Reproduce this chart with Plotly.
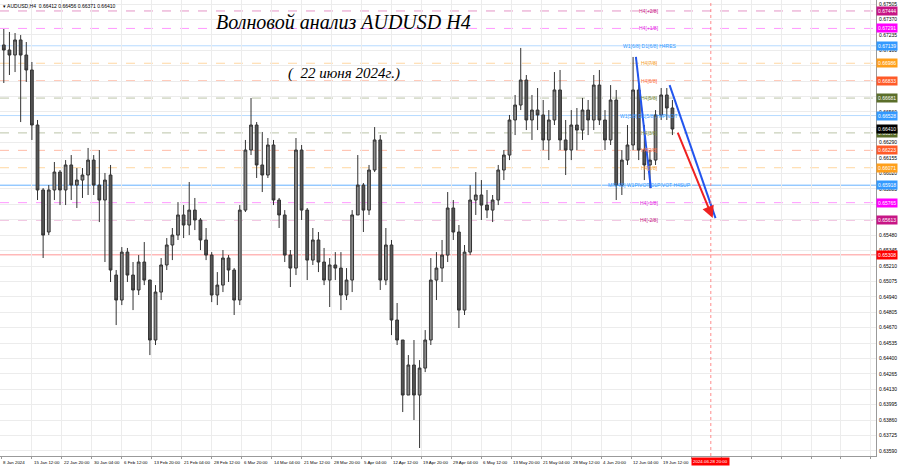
import plotly.graph_objects as go

# ---------------- data ----------------
opens = [.67146,.67102,.67058,.67190,.67058,.66927,.66445,.65876,.65508,.65876,
 .66033,.65876,.66095,.65919,.65963,.66007,.66138,.65919,.65788,.66007,
 .65131,.64912,.65332,.65131,.65000,.65245,.65087,.64562,.64982,.65219,
 .65394,.65481,.65657,.65569,.65700,.65613,.65438,.65306,.64956,.65043,
 .65280,.65175,.64912,.65700,.66226,.66445,.66095,.66007,.66270,.65788,
 .65657,.65306,.65192,.66226,.65700,.65262,.65438,.65245,.65087,.65219,
 .65192,.64956,.65087,.65657,.65919,.65700,.66051,.66314,.65087,.65394,
 .64737,.64562,.64080,.64343,.64080,.64316,.64562,.65087,.65192,.65306,
 .65718,.65508,.64824,.65332,.65788,.65832,.65744,.65700,.65788,.66051,
 .66182,.66489,.66620,.66839,.66489,.66576,.66533,.66314,.66489,.66752,
 .66314,.66226,.66445,.66401,.66576,.66489,.66795,.66489,.66314,.66664,
 .65919,.66138,.66270,.66752,.66226,.66095,.66138,.66533,.66708,.66594]
highs = [.67286,.67260,.67251,.67233,.67172,.66997,.66489,.65893,.65919,.66121,
 .66051,.66138,.66182,.66068,.66068,.66244,.66182,.66226,.66025,.66095,
 .65175,.65376,.65368,.65245,.65306,.65420,.65090,.65043,.65280,.65455,
 .65543,.65770,.65744,.65946,.65806,.65630,.65543,.65332,.65157,.65350,
 .65306,.65192,.65744,.66314,.66682,.66471,.66384,.66331,.66314,.65806,
 .65700,.65350,.66331,.66270,.65718,.65543,.65508,.65368,.65280,.65332,
 .65332,.65192,.65700,.66182,.65937,.66095,.66427,.66357,.65543,.65438,
 .64886,.64562,.64430,.64562,.64386,.64649,.65280,.65332,.65438,.65858,
 .65788,.65569,.65394,.65919,.66033,.65963,.65876,.65832,.66095,.66226,
 .66533,.66708,.67120,.66883,.66708,.66769,.66664,.66576,.66909,.66927,
 .66489,.66576,.66594,.66682,.66664,.66883,.66927,.66576,.66795,.66752,
 .66226,.66445,.67041,.66795,.66445,.66226,.66576,.66769,.66769,.66664]
lows = [.66813,.66883,.66909,.66471,.66822,.66314,.65788,.65280,.65481,.65788,
 .65744,.65744,.65788,.65718,.65806,.65832,.65832,.65595,.65245,.65070,
 .64693,.64868,.65070,.64824,.64956,.65043,.64430,.64518,.64912,.65175,
 .65262,.65438,.65455,.65481,.65525,.65350,.65262,.64894,.64868,.64982,
 .65070,.64781,.64868,.65683,.66182,.65981,.65858,.65981,.65744,.65543,
 .65245,.65026,.65131,.65613,.65087,.65219,.65157,.65043,.64851,.65087,
 .64824,.64912,.64982,.65657,.65508,.65657,.66033,.65000,.65043,.64605,
 .64518,.63931,.64080,.63861,.63616,.64281,.64518,.64912,.65070,.65245,
 .65438,.64667,.64781,.65306,.65657,.65613,.65630,.65595,.65744,.65963,
 .66138,.66357,.66576,.66401,.66314,.66401,.66226,.66138,.66445,.66226,
 .66007,.66138,.66226,.66314,.66357,.66401,.66445,.66226,.66270,.65788,
 .65832,.66095,.66226,.66138,.65963,.65893,.66095,.66489,.66489,.66357]
closes = [.67102,.67058,.67190,.67058,.66927,.66445,.65876,.65481,.65876,.66033,
 .65876,.66095,.65919,.65963,.66007,.66138,.65919,.65788,.65963,.65175,
 .64912,.65332,.65131,.65000,.65245,.65087,.64562,.64982,.65219,.65394,
 .65481,.65657,.65569,.65700,.65613,.65438,.65306,.64956,.65043,.65280,
 .65175,.64912,.65700,.66226,.66445,.66095,.66007,.66270,.65788,.65657,
 .65306,.65192,.66226,.65700,.65262,.65438,.65245,.65087,.65219,.65192,
 .64956,.65087,.65657,.65919,.65700,.66051,.66314,.65087,.65394,.64737,
 .64562,.64080,.64343,.64080,.64316,.64562,.65087,.65192,.65306,.65718,
 .65508,.64824,.65332,.65788,.65832,.65744,.65700,.65788,.66051,.66182,
 .66489,.66620,.66839,.66489,.66576,.66533,.66314,.66489,.66752,.66314,
 .66226,.66445,.66401,.66576,.66489,.66795,.66489,.66314,.66664,.65919,
 .66138,.66270,.66752,.66226,.66095,.66138,.66533,.66708,.66594,.66410]

# time axis (H4 bar index) and labels
time_tick_idx = [0, 33, 65, 97, 129, 161, 193, 225, 257, 289, 321, 353, 385, 417,
                 449, 481, 513, 545, 577, 609, 641, 673, 705]
time_tick_text = ["8 Jan 2024", "15 Jan 12:00", "22 Jan 20:00", "30 Jan 04:00",
                  "6 Feb 12:00", "13 Feb 20:00", "21 Feb 04:00", "28 Feb 12:00",
                  "6 Mar 20:00", "14 Mar 04:00", "21 Mar 12:00", "28 Mar 20:00",
                  "5 Apr 04:00", "12 Apr 12:00", "19 Apr 20:00", "29 Apr 04:00",
                  "6 May 12:00", "13 May 20:00", "21 May 04:00", "28 May 12:00",
                  "4 Jun 20:00", "12 Jun 04:00", "19 Jun 12:00"]
future_grid_idx = [737, 769, 801, 833, 865, 897, 929]
marker_time_idx = 758
marker_time_text = "2024.06.28 20:00"

price_ticks = [0.67505, 0.67370, 0.67235, 0.67100, 0.66965, 0.66830, 0.66695, 0.66560,
               0.66425, 0.66290, 0.66155, 0.66020, 0.65885, 0.65750, 0.65615, 0.65480,
               0.65345, 0.65210, 0.65075, 0.64940, 0.64805, 0.64670, 0.64535, 0.64400,
               0.64265, 0.64130, 0.63995, 0.63860, 0.63725, 0.63590]

level_prices = [0.67444, 0.67291, 0.67139, 0.66986, 0.66833, 0.66681, 0.66528,
                0.66376, 0.66223, 0.66071, 0.65918, 0.65765, 0.65613]
level_names = ["H4[+2/8]", "H4[+1/8]", "W1[6/8] D1[6/8] H4RES", "H4[7/8]", "H4[6/8]",
               "H4[5/8]", "W1[5/8] D1[5/8] H4PIVOT", "H4[3/8]", "H4[2/8]", "H4[1/8]",
               "MN[4/8] W1PIVOT D1PIVOT H4SUP", "H4[-1/8]", "H4[-2/8]"]
level_label_idx = 692
red_level = 0.65308
last_price = 0.66410
header = "AUDUSD,H4  0.66412 0.66456 0.66371 0.66410"

blue1_x, blue1_y = [678, 694], [0.67041, 0.65893]
blue2_x, blue2_y = [714, 763], [0.66795, 0.65630]
red_x, red_y = [722, 760], [0.66392, 0.65630]

title1 = "Волновой анализ AUDUSD H4"
title2 = "(  22 июня 2024г.)"

# ---------------- styles ----------------
level_colors = ["#c71585", "#ff00ff", "#3399ff", "#ff9f1a", "#ff5a28", "#5b6e2a", "#3399ff",
                "#5b6e2a", "#ff5a28", "#ff9f1a", "#3399ff", "#ff00ff", "#c71585"]
level_text_colors = ["#c71585", "#e020e0", "#3399ff", "#f5a030", "#ff6a3a", "#7a8a3a", "#3399ff",
                     "#7a8a3a", "#ff6a3a", "#f5a030", "#3399ff", "#e020e0", "#c71585"]
level_dash = ["dash", "dash", "solid", "dash", "dash", "dash", "solid",
              "dash", "dash", "dash", "solid", "dash", "dash"]
level_opacity = [0.45, 0.4, 0.35, 0.4, 0.4, 0.4, 0.35, 0.4, 0.4, 0.4, 0.75, 0.4, 0.45]

FONT = "Liberation Sans"
FS = 5
FS_TIME = 4.4
x_pos = [6 * i + 3 for i in range(len(opens))]

# tick labels hidden where a price box sits on top of them
box_prices = level_prices + [red_level, last_price]
tick_text = ["" if min(abs(t - b) for b in box_prices) < 0.00025 else f"{t:.5f}"
             for t in price_ticks]

fig = go.Figure()
fig.add_trace(go.Candlestick(
    x=x_pos, open=opens, high=highs, low=lows, close=closes,
    increasing=dict(line=dict(color="#333333", width=1), fillcolor="#8a8a8a"),
    decreasing=dict(line=dict(color="#333333", width=1), fillcolor="#555555"),
    whiskerwidth=0, showlegend=False, hoverinfo="skip"))

shapes = []
annotations = []
for p, nm, c, d, op, tc in zip(level_prices, level_names, level_colors, level_dash,
                               level_opacity, level_text_colors):
    shapes.append(dict(type="line", xref="paper", x0=0, x1=1, yref="y", y0=p, y1=p,
                       line=dict(color=c, width=1, dash=d), opacity=op, layer="below"))
    annotations.append(dict(x=level_label_idx, y=p, xref="x", yref="y", text=nm,
                            showarrow=False, xanchor="center", yanchor="middle",
                            font=dict(family=FONT, size=FS, color=tc)))
    annotations.append(dict(x=1, y=p, xref="paper", yref="y", text=f"{p:.5f}",
                            showarrow=False, xanchor="left", yanchor="middle", xshift=0,
                            bgcolor=c, borderpad=1,
                            font=dict(family=FONT, size=FS, color="white")))

shapes.append(dict(type="line", xref="paper", x0=0, x1=1, yref="y", y0=red_level, y1=red_level,
                   line=dict(color="#ff3030", width=1), opacity=0.5, layer="below"))
annotations.append(dict(x=1, y=red_level, xref="paper", yref="y", text=f"{red_level:.5f}",
                        showarrow=False, xanchor="left", yanchor="middle", xshift=0,
                        bgcolor="#ff0000", borderpad=1,
                        font=dict(family=FONT, size=FS, color="white")))
annotations.append(dict(x=1, y=last_price, xref="paper", yref="y", text=f"{last_price:.5f}",
                        showarrow=False, xanchor="left", yanchor="middle", xshift=0,
                        bgcolor="#000000", borderpad=1,
                        font=dict(family=FONT, size=FS, color="white")))

# future time marker
shapes.append(dict(type="line", xref="x", x0=marker_time_idx, x1=marker_time_idx,
                   yref="paper", y0=0, y1=1, line=dict(color="#ff7070", width=1, dash="dot"),
                   opacity=0.8))
annotations.append(dict(x=marker_time_idx, y=0, xref="x", yref="paper", text=marker_time_text,
                        showarrow=False, xanchor="center", yanchor="top", yshift=-1,
                        bgcolor="#ff0000", borderpad=1,
                        font=dict(family=FONT, size=FS_TIME, color="white")))

# time labels
for ti, tt in zip(time_tick_idx, time_tick_text):
    annotations.append(dict(x=ti, y=0, xref="x", yref="paper", text=tt, showarrow=False,
                            xanchor="left", yanchor="top", yshift=-2, xshift=0,
                            font=dict(family=FONT, size=FS_TIME, color="black")))

# trend lines
fig.add_trace(go.Scatter(x=blue1_x, y=blue1_y, mode="lines",
                         line=dict(color="#2255ee", width=2), showlegend=False, hoverinfo="skip"))
fig.add_trace(go.Scatter(x=blue2_x, y=blue2_y, mode="lines",
                         line=dict(color="#2255ee", width=2), showlegend=False, hoverinfo="skip"))
annotations.append(dict(x=red_x[1], y=red_y[1], ax=red_x[0], ay=red_y[0], xref="x", yref="y",
                        axref="x", ayref="y", showarrow=True, arrowhead=2, arrowsize=1.2,
                        arrowwidth=2, arrowcolor="#ee2222", text=""))

# header and titles
annotations.append(dict(x=0, y=1, xref="paper", yref="paper", text="▾ " + header,
                        showarrow=False, xanchor="left", yanchor="top", xshift=1, yshift=-1,
                        font=dict(family=FONT, size=FS, color="black")))
annotations.append(dict(x=366, y=1, xref="x", yref="paper", text=title1, showarrow=False,
                        xanchor="center", yanchor="top", yshift=-9,
                        font=dict(family="Liberation Serif", size=20, color="black",
                                  style="italic")))
annotations.append(dict(x=366, y=1, xref="x", yref="paper", text=title2, showarrow=False,
                        xanchor="center", yanchor="top", yshift=-63,
                        font=dict(family="Liberation Serif", size=15, color="black",
                                  style="italic")))

fig.update_layout(
    width=900, height=468,
    margin=dict(l=0, r=24, t=0, b=12, autoexpand=False),
    paper_bgcolor="white", plot_bgcolor="white",
    shapes=shapes, annotations=annotations,
    showlegend=False,
    xaxis=dict(range=[-1.07, 934.4], tickvals=time_tick_idx + future_grid_idx,
               showticklabels=False, showgrid=True, gridcolor="#ececec", gridwidth=1,
               zeroline=False, rangeslider=dict(visible=False), automargin=False,
               showline=True, linecolor="#9a9a9a", mirror=True,
               ticks="outside", ticklen=2, tickcolor="#9a9a9a"),
    yaxis=dict(range=[0.63546, 0.67540], side="right", tickvals=price_ticks,
               ticktext=tick_text, automargin=False,
               tickfont=dict(family=FONT, size=FS, color="black"),
               showgrid=True, gridcolor="#ececec", gridwidth=1, zeroline=False,
               showline=True, linecolor="#9a9a9a", mirror=True,
               ticks="", ticklabelstandoff=1),
)
fig.write_html("out.html", config={"displayModeBar": False},
               post_script="document.body.style.margin='0';document.body.style.padding='0';")
